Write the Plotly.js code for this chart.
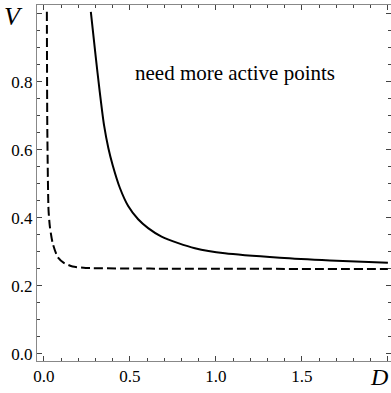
<!DOCTYPE html>
<html>
<head>
<meta charset="utf-8">
<script src="https://cdn.plot.ly/plotly-3.0.1.min.js"></script>
<style>html,body{margin:0;padding:0;background:#fff;}#chart{width:391px;height:393px;}</style>
</head>
<body>
<div id="chart"></div>
<script>
// Solid curve (D, V)
const solidD = [0.273, 0.300, 0.325, 0.350, 0.375, 0.400, 0.442, 0.490, 0.548, 0.606, 0.684, 0.781, 0.878, 1.052, 1.372, 1.663, 2.0];
const solidV = [1.006, 0.880, 0.770, 0.672, 0.605, 0.555, 0.488, 0.435, 0.396, 0.370, 0.345, 0.326, 0.311, 0.296, 0.283, 0.275, 0.268];
// Dashed curve (D, V)
const dashD = [0.0174, 0.020, 0.027, 0.035, 0.051, 0.080, 0.116, 0.167, 0.244, 0.616, 2.0];
const dashV = [1.006, 0.659, 0.424, 0.374, 0.326, 0.285, 0.268, 0.257, 0.253, 0.251, 0.250];
// Tick labels
const xTickVals = [0, 0.5, 1.0, 1.5, 2.0];
const xTickText = ['0.0', '0.5', '1.0', '1.5', ''];
const yTickVals = [0, 0.2, 0.4, 0.6, 0.8, 1.0];
const yTickText = ['0.0', '0.2', '0.4', '0.6', '0.8', ''];
const noteText = 'need more active points';

const serif = 'Liberation Serif';
const traces = [
  {x: solidD, y: solidV, mode: 'lines', line: {color: '#000', width: 2, shape: 'spline', smoothing: 0.8}, hoverinfo: 'skip'},
  {x: dashD, y: dashV, mode: 'lines', line: {color: '#000', width: 2, dash: '9px,4px', shape: 'spline', smoothing: 0.6}, hoverinfo: 'skip'}
];
const axisCommon = {
  showgrid: false, zeroline: false, showline: true, mirror: 'allticks',
  linecolor: '#888', linewidth: 1, ticks: 'inside', ticklen: 5, tickwidth: 1, tickcolor: '#444',
  tickmode: 'array', tickfont: {family: serif, size: 17, color: '#000'}
};
const layout = {
  width: 391, height: 393,
  margin: {l: 37, r: 0, t: 5, b: 32},
  paper_bgcolor: '#fff', plot_bgcolor: '#fff',
  showlegend: false,
  xaxis: Object.assign({}, axisCommon, {
    range: [-0.04, 2.018], tickvals: xTickVals, ticktext: xTickText,
    minor: {dtick: 0.1, tick0: 0, ticks: 'inside', ticklen: 3, tickcolor: '#444', tickwidth: 1}
  }),
  yaxis: Object.assign({}, axisCommon, {
    range: [-0.0206, 1.026], tickvals: yTickVals, ticktext: yTickText,
    minor: {dtick: 0.05, tick0: 0, ticks: 'inside', ticklen: 3, tickcolor: '#444', tickwidth: 1}
  }),
  annotations: [
    {x: 1.11, y: 0.826, xref: 'x', yref: 'y', text: noteText, showarrow: false,
     xanchor: 'center', yanchor: 'middle',
     font: {family: serif, size: 21, color: '#000'}},
    {x: -0.065, y: 0.969, xref: 'paper', yref: 'paper', text: '<i>V</i>', showarrow: false,
     xanchor: 'center', yanchor: 'middle',
     font: {family: serif, size: 26, color: '#000'}},
    {x: 0.966, y: -0.045, xref: 'paper', yref: 'paper', text: '<i>D</i>', showarrow: false,
     xanchor: 'center', yanchor: 'middle',
     font: {family: serif, size: 24, color: '#000'}}
  ]
};
Plotly.newPlot('chart', traces, layout, {staticPlot: true, displayModeBar: false});
</script>
</body>
</html>
